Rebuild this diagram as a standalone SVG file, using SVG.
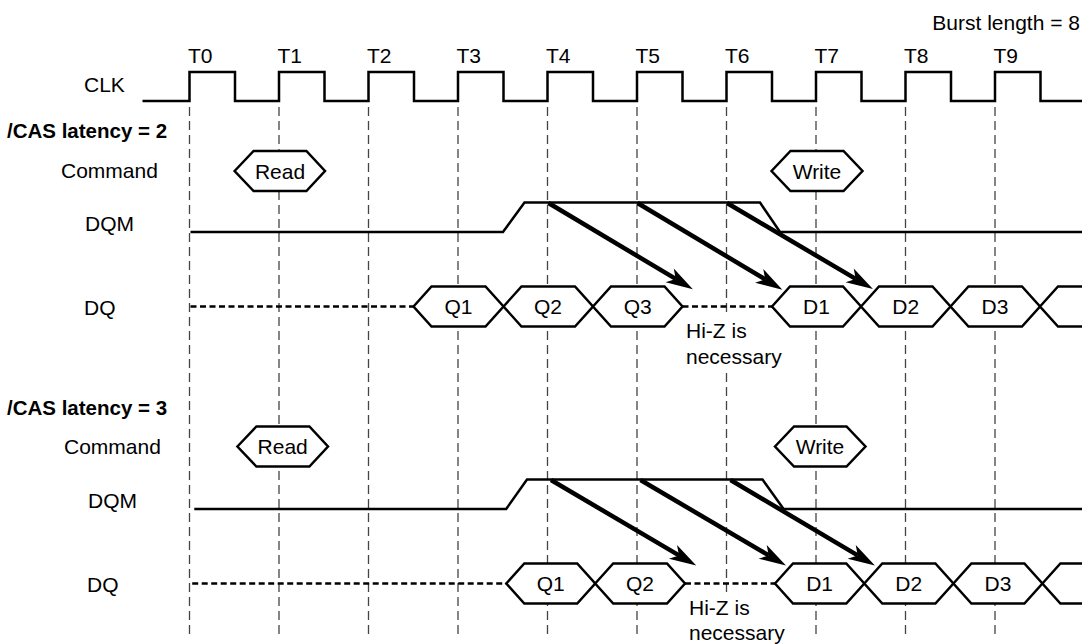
<svg xmlns="http://www.w3.org/2000/svg" width="1082" height="644" viewBox="0 0 1082 644">
<style>
text{font-family:"Liberation Sans",Arial,Helvetica,sans-serif;font-size:21px;fill:#000}
.b{font-weight:bold;font-size:20.5px}
.c{text-anchor:middle}
.grid{stroke:#444;stroke-width:1.3;stroke-dasharray:9 5;fill:none}
.sig{fill:none;stroke:#000;stroke-width:2.5;stroke-linejoin:miter}
.hiz{fill:none;stroke:#000;stroke-width:2.5;stroke-dasharray:6 3.5}
.hex{fill:#fff;stroke:#000;stroke-width:2.5;stroke-linejoin:miter}
.arr{stroke:#000;stroke-width:4.5;fill:none;marker-end:url(#ah)}
</style>
<defs>
<marker id="ah" markerUnits="userSpaceOnUse" viewBox="-10 -10 40 20" refX="4" refY="0" markerWidth="40" markerHeight="20" orient="auto" overflow="visible">
<path d="M24,0 L-3,-8 L4,0 L-3,8 Z" fill="#000"/>
</marker>
</defs>
<rect width="1082" height="644" fill="#fff"/>
<g id="grid">
<line class="grid" x1="189.5" y1="107" x2="189.5" y2="636"/>
<line class="grid" x1="279" y1="107" x2="279" y2="636"/>
<line class="grid" x1="368.5" y1="107" x2="368.5" y2="636"/>
<line class="grid" x1="458" y1="107" x2="458" y2="636"/>
<line class="grid" x1="547.5" y1="107" x2="547.5" y2="636"/>
<line class="grid" x1="637" y1="107" x2="637" y2="636"/>
<line class="grid" x1="726.5" y1="107" x2="726.5" y2="636"/>
<line class="grid" x1="816" y1="107" x2="816" y2="636"/>
<line class="grid" x1="905.5" y1="107" x2="905.5" y2="636"/>
<line class="grid" x1="995" y1="107" x2="995" y2="636"/>
</g>
<g id="labels">
<text x="1080" y="30" style="text-anchor:end">Burst length = 8</text>
<text x="188" y="63">T0</text>
<text x="277.5" y="63">T1</text>
<text x="367" y="63">T2</text>
<text x="456.5" y="63">T3</text>
<text x="546" y="63">T4</text>
<text x="635.5" y="63">T5</text>
<text x="725" y="63">T6</text>
<text x="814.5" y="63">T7</text>
<text x="904" y="63">T8</text>
<text x="993.5" y="63">T9</text>
<text x="84" y="92">CLK</text>
<text class="b" x="7" y="138">/CAS latency = 2</text>
<text x="61" y="178">Command</text>
<text x="85" y="230.5">DQM</text>
<text x="84" y="314.5">DQ</text>
<text class="b" x="7" y="415">/CAS latency = 3</text>
<text x="64" y="454">Command</text>
<text x="88" y="507.5">DQM</text>
<text x="87" y="591.5">DQ</text>
</g>
<g id="hiz-note1">
<rect x="683" y="316" width="100" height="54" fill="#fff"/>
<text x="686" y="338">Hi-Z is</text>
<text x="686" y="364">necessary</text>
</g>
<g id="hiz-note2">
<rect x="686" y="592" width="100" height="52" fill="#fff"/>
<text x="689" y="614.5">Hi-Z is</text>
<text x="689" y="640">necessary</text>
</g>
<g id="clk">
<path class="sig" d="M142.5,101 H189.5 V72 H235 V101 H279 V72 H324.5 V101 H368.5 V72 H414 V101 H458 V72 H503.5 V101 H547.5 V72 H593 V101 H637 V72 H682.5 V101 H726.5 V72 H772 V101 H816 V72 H861.5 V101 H905.5 V72 H951 V101 H995 V72 H1040.5 V101 H1082"/>
</g>
<g id="dqm1">
<path class="sig" d="M190.5,232 H503 L524.5,202.5 H760 L780,232 H1082"/>
</g>
<g id="dqm2">
<path class="sig" d="M194.3,509 H506.2 L527,479.5 H762.5 L783.6,509 H1082"/>
</g>
<g id="dq1-hiz">
<line class="hiz" x1="190.5" y1="306.5" x2="413.5" y2="306.5"/>
<line class="hiz" x1="682.5" y1="306.5" x2="772" y2="306.5"/>
</g>
<g id="dq2-hiz">
<line class="hiz" x1="192.2" y1="583.5" x2="506.3" y2="583.5"/>
<line class="hiz" x1="685" y1="583.5" x2="775" y2="583.5"/>
</g>
<g id="cmd1-read"><polygon class="hex" points="234.6,171 253.6,151 306.4,151 325,171 306.4,191 253.6,191"/><text class="c" x="280" y="178.5">Read</text></g>
<g id="cmd1-write"><polygon class="hex" points="771.5,171 790.5,151 843.5,151 862.5,171 843.5,191 790.5,191"/><text class="c" x="817" y="178.5">Write</text></g>
<g id="cmd2-read"><polygon class="hex" points="237.4,446.5 256.4,426.5 309.4,426.5 328,446.5 309.4,466.5 256.4,466.5"/><text class="c" x="282.7" y="454">Read</text></g>
<g id="cmd2-write"><polygon class="hex" points="775,446.5 794,426.5 846.5,426.5 865.5,446.5 846.5,466.5 794,466.5"/><text class="c" x="820" y="454">Write</text></g>
<g id="dq1-q1"><polygon class="hex" points="413.5,306.5 431.5,286.5 485.5,286.5 503.5,306.5 485.5,326.5 431.5,326.5"/><text class="c" x="458.5" y="314">Q1</text></g>
<g id="dq1-q2"><polygon class="hex" points="503.5,306.5 521.5,286.5 575,286.5 593,306.5 575,326.5 521.5,326.5"/><text class="c" x="548" y="314">Q2</text></g>
<g id="dq1-q3"><polygon class="hex" points="593,306.5 611,286.5 664.5,286.5 682.5,306.5 664.5,326.5 611,326.5"/><text class="c" x="637.7" y="314">Q3</text></g>
<g id="dq1-d1"><polygon class="hex" points="772,306.5 790,286.5 843,286.5 861,306.5 843,326.5 790,326.5"/><text class="c" x="816.5" y="314">D1</text></g>
<g id="dq1-d2"><polygon class="hex" points="861,306.5 879,286.5 932.5,286.5 950.5,306.5 932.5,326.5 879,326.5"/><text class="c" x="905.7" y="314">D2</text></g>
<g id="dq1-d3"><polygon class="hex" points="950.5,306.5 968.5,286.5 1022,286.5 1040,306.5 1022,326.5 968.5,326.5"/><text class="c" x="995" y="314">D3</text></g>
<g id="dq1-d4"><polygon class="hex" points="1040,306.5 1058,286.5 1112,286.5 1130,306.5 1112,326.5 1058,326.5"/></g>
<g id="dq2-q1"><polygon class="hex" points="506.3,583.5 524.3,563.5 577.2,563.5 595.2,583.5 577.2,603.5 524.3,603.5"/><text class="c" x="550.7" y="591">Q1</text></g>
<g id="dq2-q2"><polygon class="hex" points="595.2,583.5 613.2,563.5 667,563.5 685,583.5 667,603.5 613.2,603.5"/><text class="c" x="640" y="591">Q2</text></g>
<g id="dq2-d1"><polygon class="hex" points="775,583.5 793,563.5 846.3,563.5 864.3,583.5 846.3,603.5 793,603.5"/><text class="c" x="819.6" y="591">D1</text></g>
<g id="dq2-d2"><polygon class="hex" points="864.3,583.5 882.3,563.5 935.4,563.5 953.4,583.5 935.4,603.5 882.3,603.5"/><text class="c" x="908.8" y="591">D2</text></g>
<g id="dq2-d3"><polygon class="hex" points="953.4,583.5 971.4,563.5 1024.4,563.5 1042.4,583.5 1024.4,603.5 971.4,603.5"/><text class="c" x="997.9" y="591">D3</text></g>
<g id="dq2-d4"><polygon class="hex" points="1042.4,583.5 1060.4,563.5 1114,563.5 1132,583.5 1114,603.5 1060.4,603.5"/></g>
<g id="connectors">
<line class="arr" x1="548.5" y1="203" x2="675.7" y2="278.9"/>
<line class="arr" x1="637.5" y1="203" x2="765.2" y2="279.4"/>
<line class="arr" x1="727" y1="203" x2="855.7" y2="278.9"/>
<line class="arr" x1="551" y1="480" x2="679" y2="555.4"/>
<line class="arr" x1="640.5" y1="480" x2="768.7" y2="555.4"/>
<line class="arr" x1="730.5" y1="480" x2="857.7" y2="555.4"/>
</g>
</svg>
